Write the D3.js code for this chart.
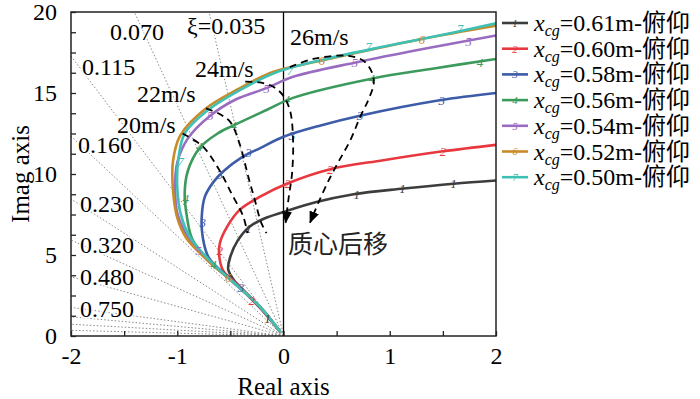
<!DOCTYPE html>
<html>
<head>
<meta charset="utf-8">
<script src="https://cdn.jsdelivr.net/npm/d3@7"></script>
<style>
body { margin: 0; background: #fff; }
svg text { font-family: "Liberation Serif", "Noto Sans CJK SC", serif; }
</style>
</head>
<body>
<svg id="grafico" width="700" height="399"></svg>
<script>
// x_cg values, one root locus per value
const cgValues = ["0.61", "0.60", "0.58", "0.56", "0.54", "0.52", "0.50"];

// root locus points [real, imag]
const locus061 = [[-0.03,0.25],[-0.2,1.6],[-0.45,3.3],[-0.52,4.1],[-0.5,4.9],[-0.43,5.9],[-0.32,6.75],[-0.18,7.25],[0.0,7.65],[0.3,8.25],[0.66,8.75],[1.13,9.1],[1.6,9.4],[2.0,9.6]];
const locus060 = [[-0.03,0.25],[-0.2,1.6],[-0.45,3.3],[-0.56,3.95],[-0.6,4.7],[-0.6,5.7],[-0.53,6.75],[-0.41,7.8],[-0.22,8.6],[0.03,9.4],[0.44,10.3],[0.94,10.85],[1.5,11.4],[2.0,11.8]];
const locus058 = [[-0.03,0.25],[-0.21,1.7],[-0.46,3.3],[-0.7,4.8],[-0.76,6.1],[-0.77,7.3],[-0.74,8.6],[-0.66,9.5],[-0.56,10.2],[-0.4,11.0],[-0.22,11.6],[0.0,12.3],[0.35,13.0],[0.72,13.6],[1.47,14.55],[2.0,15.0]];
const locus056 = [[-0.03,0.25],[-0.22,1.8],[-0.47,3.3],[-0.71,4.7],[-0.86,6.0],[-0.91,7.4],[-0.93,8.8],[-0.9,10.2],[-0.79,11.6],[-0.62,12.5],[-0.47,13.0],[-0.16,13.95],[0.09,14.7],[0.84,15.9],[1.4,16.5],[2.0,17.1]];
const locus054 = [[-0.03,0.25],[-0.22,1.8],[-0.47,3.3],[-0.72,4.7],[-0.9,6.1],[-1.0,7.6],[-1.02,9.2],[-1.0,10.7],[-0.9,12.2],[-0.69,13.6],[-0.45,14.6],[-0.16,15.3],[0.09,16.0],[0.69,16.9],[1.3,17.7],[2.0,18.55]];
const locus052 = [[-0.03,0.25],[-0.22,1.8],[-0.47,3.3],[-0.72,4.7],[-0.92,6.1],[-1.0,7.3],[-1.04,9.0],[-1.04,10.8],[-0.97,12.4],[-0.74,14.0],[-0.41,15.3],[-0.1,16.3],[0.36,17.0],[1.28,18.3],[2.0,19.15]];
const locus050 = [[-0.03,0.25],[-0.22,1.8],[-0.47,3.3],[-0.7,4.7],[-0.88,6.1],[-0.97,7.6],[-1.0,9.2],[-0.99,10.9],[-0.93,12.5],[-0.71,13.95],[-0.35,15.4],[-0.06,16.3],[0.4,17.1],[0.97,17.9],[1.5,18.6],[2.0,19.3]];

// numbered markers along each locus
const marks061 = [[-0.15,1.1],[-0.33,6.65],[0.69,8.75],[1.12,9.1],[1.6,9.4]];
const marks060 = [[-0.3,2.2],[-0.6,5.3],[0.04,9.4],[0.44,10.3],[1.5,11.4]];
const marks058 = [[-0.4,3.0],[-0.76,7.0],[-0.6,10.0],[-0.33,11.3],[0.08,12.4],[0.72,13.6],[1.49,14.55]];
const marks056 = [[-0.66,4.4],[-0.92,8.5],[-0.79,11.7],[-0.47,13.0],[0.03,14.6],[0.83,15.9],[1.85,16.9]];
const marks054 = [[-0.8,5.3],[-0.69,13.6],[-0.16,15.3],[0.67,16.9],[1.74,18.2]];
const marks052 = [[-0.52,3.6],[0.36,17.0],[1.3,18.3]];
const marks050 = [[-0.97,10.8],[0.06,16.4],[0.8,17.85],[1.66,19.0]];

// damping ratio grid
const zetaValues = [0.035, 0.070, 0.115, 0.160, 0.230, 0.320, 0.480, 0.750, 0.86, 0.94, 0.985];
const zetaLabels = ["ξ=0.035", "0.070", "0.115", "0.160", "0.230", "0.320", "0.480", "0.750"];
const zetaLabelPos = [[-0.908,18.64],[-1.633,18.27],[-1.896,16.11],[-1.934,11.30],[-1.915,7.65],[-1.915,5.12],[-1.915,3.15],[-1.915,1.17]];

// dashed iso-speed lines
const speedLabels = ["20m/s", "22m/s", "24m/s", "26m/s"];
const speedLabelPos = [[-1.567,12.53],[-1.379,14.44],[-0.833,15.99],[0.061,17.96]];
const speed20 = [[-0.95,12.5],[-0.76,11.7],[-0.6,10.2],[-0.49,8.8],[-0.38,7.4],[-0.34,6.35]];
const speed22 = [[-0.73,14.05],[-0.6,13.7],[-0.5,13.2],[-0.41,11.8],[-0.33,9.8],[-0.27,8.4],[-0.21,7.0],[-0.16,6.35]];
const speed24 = [[-0.36,15.7],[-0.22,15.65],[-0.1,15.4],[-0.01,14.9],[0.06,13.95],[0.09,12.1],[0.08,10.0],[0.05,8.6],[0.02,7.0]];
const speed26 = [[0.06,16.6],[0.28,17.1],[0.6,17.3],[0.75,17.0],[0.83,16.3],[0.85,15.6],[0.8,14.6],[0.72,13.5],[0.63,12.1],[0.53,10.9],[0.44,9.8],[0.34,8.4],[0.25,7.0]];

const xTicks = [-2, -1.5, -1, -0.5, 0, 0.5, 1, 1.5, 2];
const yTicks = [0, 1.25, 2.5, 3.75, 5, 6.25, 7.5, 8.75, 10, 11.25, 12.5, 13.75, 15, 16.25, 17.5, 18.75, 20];

const annotationText = "质心后移";
const annotationPos = [0.042, 5.12];

class GraficoLugarRaizes {

    constructor(element_id) {
        this.element_id = element_id;
        this.left = 71; this.right = 496; this.top = 12; this.bottom = 336;
        this.colors = ["#3d3d3d", "#e8383f", "#3c5ca8", "#3c9a5c", "#9a6cc0", "#c98a2a", "#3fc0b4"];
        this.loci = [locus061, locus060, locus058, locus056, locus054, locus052, locus050];
        this.marks = [marks061, marks060, marks058, marks056, marks054, marks052, marks050];
    }

    criar() {
        let self = this;
        let svg = d3.select('#' + this.element_id);
        let x = d3.scaleLinear().domain([-2, 2]).range([this.left, this.right]);
        let y = d3.scaleLinear().domain([0, 20]).range([this.bottom, this.top]);
        this.x = x; this.y = y;

        let defs = svg.append("defs");
        defs.append("clipPath").attr("id", "area")
            .append("rect")
            .attr("x", this.left).attr("y", this.top)
            .attr("width", this.right - this.left).attr("height", this.bottom - this.top);
        defs.append("marker").attr("id", "seta")
            .attr("viewBox", "0 0 12 10").attr("refX", 11).attr("refY", 5)
            .attr("markerWidth", 12).attr("markerHeight", 10)
            .attr("markerUnits", "userSpaceOnUse").attr("orient", "auto")
            .append("path").attr("d", "M0,0 L12,5 L0,10 Z").attr("fill", "#000");

        let plot = svg.append("g").attr("clip-path", "url(#area)");

        // damping ratio lines
        plot.selectAll(".zeta").data(zetaValues).enter()
            .append("line")
            .attr("x1", x(0)).attr("y1", y(0))
            .attr("x2", d => x(-40 * d / Math.sqrt(1 - d * d)))
            .attr("y2", y(40))
            .attr("stroke", "#8a8a8a").attr("stroke-width", 1)
            .attr("stroke-dasharray", "1.5,2");

        // imaginary axis
        plot.append("line")
            .attr("x1", x(0)).attr("x2", x(0)).attr("y1", y(0)).attr("y2", y(20))
            .attr("stroke", "#000").attr("stroke-width", 1.3);

        // loci
        let line = d3.line().x(d => x(d[0])).y(d => y(d[1])).curve(d3.curveCatmullRom);
        for (let s = 0; s < this.loci.length; s++) {
            plot.append("path")
                .attr("d", line(this.loci[s]))
                .attr("fill", "none")
                .attr("stroke", self.colors[s])
                .attr("stroke-width", 2.6);
        }
        for (let s = 0; s < this.loci.length; s++) {
            plot.selectAll(".m" + s).data(this.marks[s]).enter()
                .append("text")
                .attr("x", d => x(d[0])).attr("y", d => y(d[1]))
                .attr("dy", "0.35em")
                .attr("text-anchor", "middle")
                .style("font-size", "13px").style("font-style", "italic")
                .attr("fill", self.colors[s])
                .text(s + 1);
        }

        // iso-speed dashed lines
        let dline = d3.line().x(d => x(d[0])).y(d => y(d[1])).curve(d3.curveCatmullRom);
        let speeds = [speed20, speed22, speed24, speed26];
        speeds.forEach(function (pts, i) {
            plot.append("path")
                .attr("d", dline(pts))
                .attr("fill", "none").attr("stroke", "#000")
                .attr("stroke-width", 1.8).attr("stroke-dasharray", "7,5")
                .attr("marker-end", i >= 2 ? "url(#seta)" : null);
        });

        // frame
        svg.append("rect")
            .attr("x", this.left).attr("y", this.top)
            .attr("width", this.right - this.left).attr("height", this.bottom - this.top)
            .attr("fill", "none").attr("stroke", "#222").attr("stroke-width", 1.5);

        // axes
        let xAxis = d3.axisBottom(x).tickValues(xTicks).tickSize(-5).tickPadding(11)
            .tickFormat(d => Number.isInteger(d) ? d3.format("d")(d).replace("−", "-") : "");
        let gx = svg.append("g").attr("transform", "translate(0," + this.bottom + ")").call(xAxis);
        let yAxis = d3.axisLeft(y).tickValues(yTicks).tickSize(-5).tickPadding(14)
            .tickFormat(d => d % 5 === 0 ? d : "");
        let gy = svg.append("g").attr("transform", "translate(" + this.left + ",0)").call(yAxis);
        [gx, gy].forEach(function (g) {
            g.select(".domain").remove();
            g.selectAll(".tick line").attr("stroke", "#222").attr("stroke-width", 1.3);
            g.selectAll("text").style("font-size", "24px").attr("fill", "#000")
                .style("font-family", "'Liberation Serif', serif");
        });

        svg.append("text")
            .attr("x", (this.left + this.right) / 2).attr("y", 395)
            .attr("text-anchor", "middle").style("font-size", "25px")
            .text("Real axis");
        svg.append("text")
            .attr("transform", "translate(29," + ((this.top + this.bottom) / 2) + ") rotate(-90)")
            .attr("text-anchor", "middle").style("font-size", "25px")
            .text("Imag axis");

        // labels on the grid
        svg.selectAll(".zlab").data(zetaLabels).enter()
            .append("text")
            .attr("x", (d, i) => x(zetaLabelPos[i][0])).attr("y", (d, i) => y(zetaLabelPos[i][1]))
            .style("font-size", "24px")
            .attr("stroke", "#fff").attr("stroke-width", 3).attr("paint-order", "stroke")
            .text(d => d);
        svg.selectAll(".slab").data(speedLabels).enter()
            .append("text")
            .attr("x", (d, i) => x(speedLabelPos[i][0])).attr("y", (d, i) => y(speedLabelPos[i][1]))
            .style("font-size", "24px")
            .attr("stroke", "#fff").attr("stroke-width", 3).attr("paint-order", "stroke")
            .text(d => d);
        svg.append("text")
            .attr("x", x(annotationPos[0])).attr("y", y(annotationPos[1]))
            .style("font-size", "25px")
            .style("font-family", "'Noto Sans CJK SC', sans-serif")
            .attr("fill", "#222")
            .text(annotationText);

        this.criarLegenda(svg);
    }

    criarLegenda(svg) {
        let self = this;
        let leg = svg.append("g").attr("transform", "translate(502,23)");
        cgValues.forEach(function (v, i) {
            let row = leg.append("g").attr("transform", "translate(0," + (i * 25.7) + ")");
            row.append("line").attr("x1", 0).attr("x2", 26).attr("y1", 0).attr("y2", 0)
                .attr("stroke", self.colors[i]).attr("stroke-width", 2.6);
            row.append("text").attr("x", 13).attr("y", 0).attr("dy", "0.35em")
                .attr("text-anchor", "middle").style("font-size", "11px").style("font-style", "italic")
                .attr("fill", self.colors[i]).text(i + 1);
            let t = row.append("text").attr("x", 32).attr("y", 8).style("font-size", "24px");
            t.append("tspan").style("font-style", "italic").text("x");
            t.append("tspan").style("font-style", "italic").style("font-size", "16px")
                .attr("dy", 5).text("cg");
            t.append("tspan").attr("dy", -5).text("=" + v + "m-俯仰");
        });
    }
}

try {
    let grafico = new GraficoLugarRaizes('grafico');
    grafico.criar();
} catch (err) {
    console.log(err);
}
</script>
</body>
</html>
